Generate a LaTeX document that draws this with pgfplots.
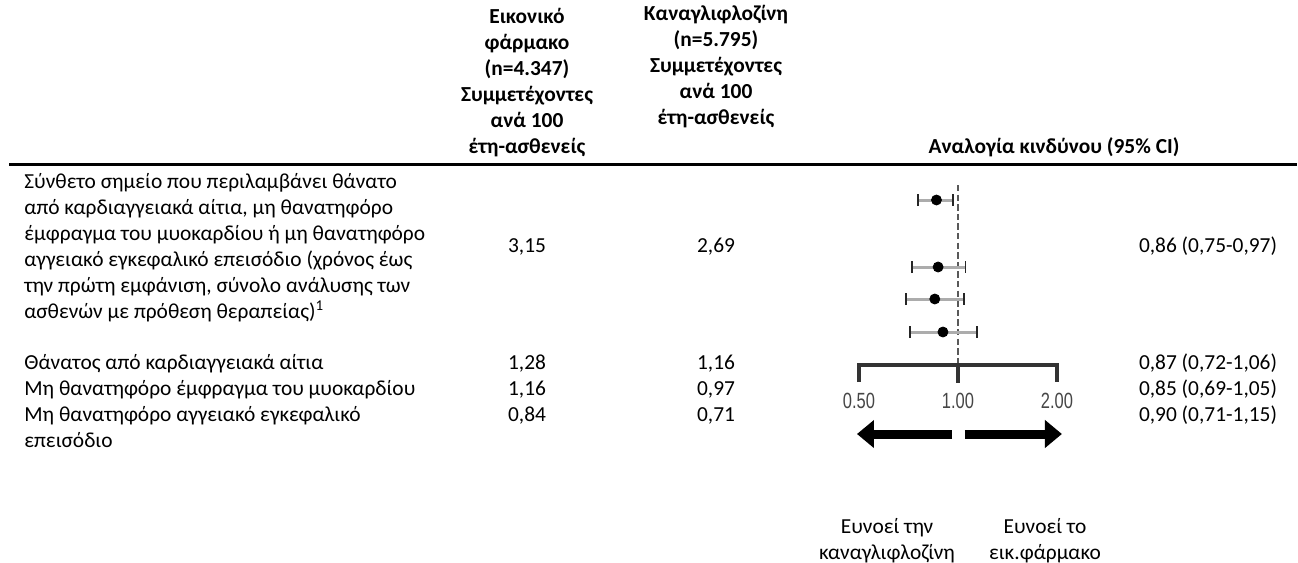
\documentclass[border=0pt]{standalone}
\usepackage{fontspec}
\setmainfont{Carlito}
\newfontfamily\tickfont{Liberation Sans}
\usepackage{pgfplots}
\pgfplotsset{compat=1.18}
\usetikzlibrary{arrows.meta}
\pgfplotstableread{
hr   lo   hi   y
0.86 0.75 0.97 -200
0.87 0.72 1.06 -267
0.85 0.69 1.05 -299
0.90 0.71 1.15 -332
}\hrdata
\begin{document}
\fontsize{10.7pt}{13pt}\selectfont
\begin{tikzpicture}[x=0.5pt,y=-0.5pt]
\path[use as bounding box] (0,0) rectangle (1298,563);
% header column 1
\foreach \t [count=\i] in {Εικονικό,φάρμακο,(n=4.347),Συμμετέχοντες,ανά 100,έτη-ασθενείς}
  \node[anchor=base,inner sep=0pt,font=\bfseries] at (527,{23+(\i-1)*26}) {\t};
% header column 2
\foreach \t [count=\i] in {Καναγλιφλοζίνη,(n=5.795),Συμμετέχοντες,ανά 100,έτη-ασθενείς}
  \node[anchor=base,inner sep=0pt,font=\bfseries] at (716,{20+(\i-1)*26}) {\t};
\node[anchor=base,inner sep=0pt,font=\bfseries] at (1054,153) {Αναλογία κινδύνου (95\% CI)};
% rule
\draw[line width=1.5pt] (9,164) -- (1297,164);
% first block
\foreach \t [count=\i] in {Σύνθετο σημείο που περιλαμβάνει θάνατο,από καρδιαγγειακά αίτια{,} μη θανατηφόρο,έμφραγμα του μυοκαρδίου ή μη θανατηφόρο,αγγειακό εγκεφαλικό επεισόδιο (χρόνος έως,την πρώτη εμφάνιση{,} σύνολο ανάλυσης των,ασθενών με πρόθεση θεραπείας)\textsuperscript{1}}
  \node[anchor=base west,inner sep=0pt] at (24,{188+(\i-1)*26}) {\t};
\node[anchor=base,inner sep=0pt] at (527,252) {3,15};
\node[anchor=base,inner sep=0pt] at (716,252) {2,69};
\node[anchor=base,inner sep=0pt] at (1208,252) {0,86 (0,75-0,97)};
% lower rows
\node[anchor=base west,inner sep=0pt] at (24,369) {Θάνατος από καρδιαγγειακά αίτια};
\node[anchor=base west,inner sep=0pt] at (24,395) {Μη θανατηφόρο έμφραγμα του μυοκαρδίου};
\node[anchor=base west,inner sep=0pt] at (24,421) {Μη θανατηφόρο αγγειακό εγκεφαλικό};
\node[anchor=base west,inner sep=0pt] at (24,447) {επεισόδιο};
\node[anchor=base,inner sep=0pt] at (527,369) {1,28};
\node[anchor=base,inner sep=0pt] at (716,369) {1,16};
\node[anchor=base,inner sep=0pt] at (527,395) {1,16};
\node[anchor=base,inner sep=0pt] at (716,395) {0,97};
\node[anchor=base,inner sep=0pt] at (527,421) {0,84};
\node[anchor=base,inner sep=0pt] at (716,421) {0,71};
\node[anchor=base,inner sep=0pt] at (1208,369) {0,87 (0,72-1,06)};
\node[anchor=base,inner sep=0pt] at (1208,395) {0,85 (0,69-1,05)};
\node[anchor=base,inner sep=0pt] at (1208,421) {0,90 (0,71-1,15)};
% footer
\node[anchor=base,inner sep=0pt] at (887,533) {Ευνοεί την};
\node[anchor=base,inner sep=0pt] at (887,559) {καναγλιφλοζίνη};
\node[anchor=base,inner sep=0pt] at (1045,533) {Ευνοεί το};
\node[anchor=base,inner sep=0pt] at (1045,559) {εικ.φάρμακο};
\begin{axis}[at={(429.5pt,-281.5pt)},anchor=south west,scale only axis,
  width=99pt,height=281.5pt,xmode=log,xmin=0.5,xmax=2,ymin=-563,ymax=0,
  axis lines=none,clip=false,
  ci/.style={gray!65,line width=1.5pt,{Bar[width=6pt,line width=0.9pt,color=gray!30!black]}-{Bar[width=6pt,line width=0.9pt,color=gray!30!black]}}]
 \addplot[gray!70!black,line width=1pt,dash pattern=on 3.2pt off 1.6pt] coordinates {(1,-185) (1,-365)};
 \addplot[line width=1.8pt,black!80] coordinates {(0.5,-382) (0.5,-365) (2,-365) (2,-382)};
 \addplot[line width=1.8pt,black!80] coordinates {(1,-365) (1,-383)};
 \addplot[ci] coordinates {(0.75,-200) (0.97,-200)};
 \addplot[ci] coordinates {(0.72,-267) (1.06,-267)};
 \addplot[ci] coordinates {(0.69,-299) (1.05,-299)};
 \addplot[ci] coordinates {(0.71,-332) (1.15,-332)};
 \addplot[only marks,mark=*,mark size=2.5pt,black] table[x=hr,y=y] {\hrdata};
 \addplot[line width=4.5pt,-{Triangle[length=8.5pt,width=13.5pt]}] coordinates {(0.959,-434) (0.493,-434)};
 \addplot[line width=4.5pt,-{Triangle[length=8.5pt,width=13.5pt]}] coordinates {(1.05,-434) (2.07,-434)};
 \foreach \v/\l in {0.5/0.50,1/1.00,2/2.00}{
   \edef\tmp{\noexpand\node[gray!55!black,font=\noexpand\tickfont\noexpand\fontsize{11pt}{12pt}\noexpand\selectfont] at (axis cs:\v,-401) {\noexpand\scalebox{0.75}[1]{\l}};}
   \tmp
 }
\end{axis}
\end{tikzpicture}
\end{document}
